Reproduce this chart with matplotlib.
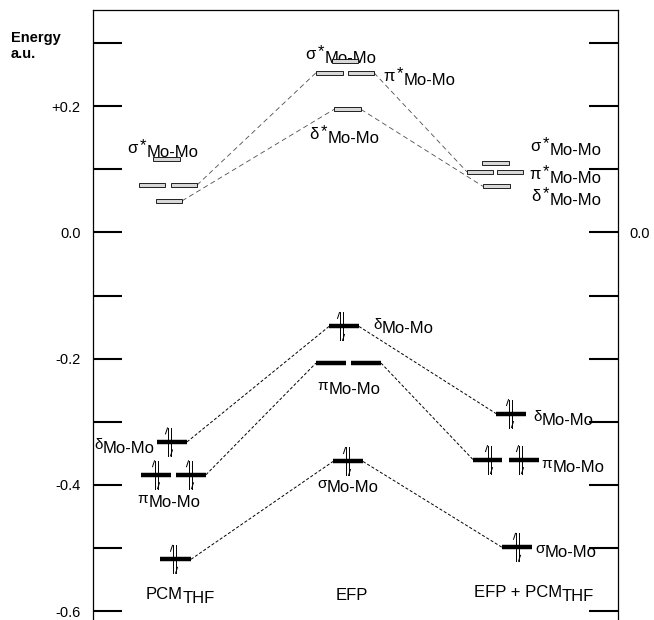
import numpy as np
import matplotlib.pyplot as plt
from matplotlib.patches import Rectangle

plt.rcParams['font.family'] = ['Liberation Sans', 'DejaVu Sans']
plt.rcParams['lines.scale_dashes'] = False

# orbital energies (a.u.)
# empty (antibonding): sigma*, pi*, delta*
pcm_empty = [0.116, 0.075, 0.050]
efp_empty = [0.271, 0.253, 0.195]
both_empty = [0.110, 0.096, 0.073]
# filled (bonding): delta, pi, sigma
pcm_filled = [-0.332, -0.384, -0.518]
efp_filled = [-0.149, -0.207, -0.363]
both_filled = [-0.287, -0.360, -0.499]

col_names = [('PCM', 'THF'), ('EFP', ''), ('EFP + PCM', 'THF')]
yticks = [0.3, 0.2, 0.1, 0.0, -0.1, -0.2, -0.3, -0.4, -0.5, -0.6]
ylabels = ['', '+0.2', '', '0.0', '', '-0.2', '', '-0.4', '', '-0.6']

# horizontal layout (x in drawing units)
pcm_empty_x = [[(153, 180)], [(139, 165), (171, 197)], [(156, 182)]]
pcm_filled_x = [[(157, 187)], [(141, 171), (176, 206)], [(160, 191)]]
efp_empty_x = [[(332, 358)], [(316, 343), (348, 374)], [(334, 361)]]
efp_filled_x = [[(329, 359)], [(316, 346), (351, 381)], [(333, 363)]]
both_empty_x = [[(482, 509)], [(467, 493), (497, 523)], [(483, 510)]]
both_filled_x = [[(496, 526)], [(473, 502), (509, 539)], [(502, 532)]]
spins = [[[169], [156, 190], [174]],
         [[341], [], [347]],
         [[510], [489, 520], [517]]]

cols = [(pcm_empty, pcm_empty_x, pcm_filled, pcm_filled_x),
        (efp_empty, efp_empty_x, efp_filled, efp_filled_x),
        (both_empty, both_empty_x, both_filled, both_filled_x)]

YTOP, YBOT = 0.3525, -0.6142
PX = 610 / (YTOP - YBOT)  # pixels per a.u.
FS = 12

fig = plt.figure(figsize=(6.54, 6.2), dpi=100)
ax = fig.add_axes([93/654, 0, 525/654, 610/620])
ax.set_xlim(93, 618)
ax.set_ylim(YBOT, YTOP)
ax.spines['bottom'].set_visible(False)
for s in ['left', 'right', 'top']:
    ax.spines[s].set_linewidth(0.9)
ax.set_xticks([])
ax.set_yticks(yticks)
ax.set_yticklabels(ylabels, fontsize=10.5)
ax.tick_params(axis='y', direction='in', length=21, width=1.5, pad=9)

ax2 = ax.twinx()
ax2.set_ylim(ax.get_ylim())
ax2.set_yticks(yticks)
ax2.set_yticklabels(['0.0' if t == 0 else '' for t in yticks], fontsize=10.5)
ax2.tick_params(axis='y', direction='in', length=21, width=1.5, pad=8)
for s in ax2.spines.values():
    s.set_visible(False)

h = 4 / PX
for empty, ex, filled, fx in cols:
    for e, spans in zip(empty, ex):
        for x0, x1 in spans:
            ax.add_patch(Rectangle((x0, e - h/2), x1 - x0, h, fc='#d8d8d8',
                                   ec='k', lw=0.6, zorder=3))
    for e, spans in zip(filled, fx):
        for x0, x1 in spans:
            ax.plot([x0, x1], [e, e], color='k', lw=3.2,
                    solid_capstyle='butt', zorder=3)


def spin_pair(x, e):
    d = 14 / PX
    b = 6 / PX
    kw = dict(color='k', lw=0.7, zorder=4)
    ax.plot([x-1.5, x-1.5], [e-d, e+d], **kw)
    ax.plot([x-1.5, x-3.5], [e+d, e+d-b], **kw)
    ax.plot([x+1.5, x+1.5], [e+d, e-d], **kw)
    ax.plot([x+1.5, x+3.5], [e-d, e-d+b], **kw)


for c, col in enumerate(spins):
    for i, xs in enumerate(col):
        for x in xs:
            spin_pair(x, cols[c][2][i])

# correlation lines
for a, b in [(0, 1), (1, 2)]:
    for i in [1, 2]:
        ax.plot([cols[a][1][i][-1][1], cols[b][1][i][0][0]],
                [cols[a][0][i], cols[b][0][i]],
                color='0.3', lw=0.6, dashes=(3.6, 2.4), zorder=2)
    for i in [0, 1, 2]:
        ax.plot([cols[a][3][i][-1][1], cols[b][3][i][0][0]],
                [cols[a][2][i], cols[b][2][i]],
                color='k', lw=0.7, dashes=(2.2, 1.4), zorder=2)


def e_of(p):
    # pixel row of the drawing -> energy, for label placement
    return YTOP - (p - 10) / PX


def mo_label(x, p, greek, star=False):
    y = e_of(p)
    ax.text(x, y, 'Mo-Mo', fontsize=FS, ha='left', va='baseline', zorder=1)
    if star:
        ax.annotate('*', (x - 1, y), xytext=(0, 5), textcoords='offset points',
                    fontsize=FS, ha='right', va='baseline')
        ax.annotate(greek, (x - 9, y), xytext=(0, 3), textcoords='offset points',
                    fontsize=FS, ha='right', va='baseline')
    else:
        ax.annotate(greek, (x - 0.5, y), xytext=(0, 3), textcoords='offset points',
                    fontsize=11, ha='right', va='baseline')


for g, x, p in [('σ', 147, 157), ('σ', 325, 63), ('π', 404, 85), ('δ', 328, 143),
                ('σ', 550, 155), ('π', 550, 183), ('δ', 550, 205)]:
    mo_label(x, p, g, star=True)
for g, x, p in [('δ', 103, 453), ('π', 149, 507), ('δ', 382, 333), ('π', 329, 394),
                ('σ', 327, 492), ('δ', 542, 425), ('π', 553, 472), ('σ', 545, 557)]:
    mo_label(x, p, g)

# column titles
ax.text(183, e_of(599), col_names[0][0], fontsize=FS, ha='right', va='baseline')
ax.text(183, e_of(603), col_names[0][1], fontsize=FS, ha='left', va='baseline')
ax.text(352, e_of(600), col_names[1][0], fontsize=FS, ha='center', va='baseline')
ax.text(562, e_of(597), col_names[2][0], fontsize=FS, ha='right', va='baseline')
ax.text(562, e_of(601), col_names[2][1], fontsize=FS, ha='left', va='baseline')

fig.text(11/654, 1 - 42/620, 'Energy', fontsize=10.5, weight='bold', va='baseline')
fig.text(11/654, 1 - 58/620, 'a.u.', fontsize=10.5, weight='bold', va='baseline')

fig.savefig('out.png', dpi=100)
